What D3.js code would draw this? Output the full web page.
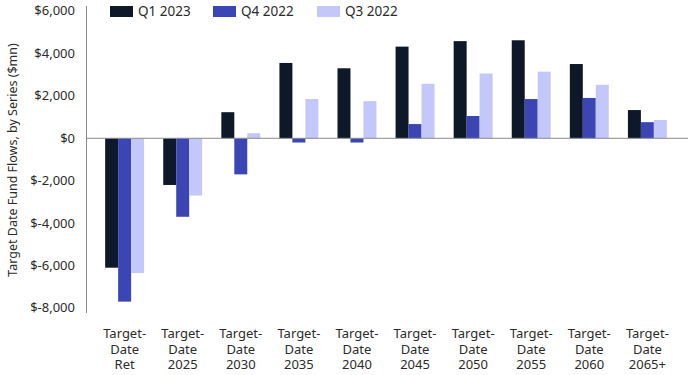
<!DOCTYPE html>
<html>
<head>
<meta charset="utf-8">
<script src="https://cdn.jsdelivr.net/npm/d3@7"></script>
<style>
  body { margin: 0; background: #fff; }
  svg text { font-family: "Noto Sans", "Open Sans", sans-serif; fill: #2b2b2b; }
</style>
</head>
<body>
<div id="chart"></div>
<script>
const categories = ["Ret", "2025", "2030", "2035", "2040", "2045", "2050", "2055", "2060", "2065+"];
const seriesNames = ["Q1 2023", "Q4 2022", "Q3 2022"];
const q1_2023 = [-6100, -2200, 1230, 3550, 3300, 4320, 4580, 4620, 3500, 1330];
const q4_2022 = [-7700, -3700, -1700, -200, -200, 670, 1050, 1850, 1900, 760];
const q3_2022 = [-6350, -2700, 240, 1850, 1750, 2570, 3050, 3140, 2520, 860];
const yTicks = [-8000, -6000, -4000, -2000, 0, 2000, 4000, 6000];
const colors = ["#0d1828", "#3c45b4", "#c3c7fa"];

function drawChart(containerId) {
    const width = 690, height = 375;
    const seriesValues = [q1_2023, q4_2022, q3_2022];

    const svg = d3.select(`#${containerId}`)
        .append("svg")
        .attr("width", width)
        .attr("height", height);

    const x = d3.scaleBand()
        .domain(categories)
        .range([86, 686])
        .paddingInner(0.33)
        .paddingOuter(0.33);

    const xInner = d3.scaleBand()
        .domain(seriesNames)
        .range([0, x.bandwidth()]);

    const y = d3.scaleLinear()
        .domain([-8000, 6000])
        .range([308, 11]);

    // y axis line and tick labels
    svg.append("line")
        .attr("x1", 86.5).attr("x2", 86.5)
        .attr("y1", 6).attr("y2", 313)
        .attr("stroke", "#8a8a8a");

    svg.append("g")
        .selectAll("text")
        .data(yTicks)
        .join("text")
        .attr("x", 75)
        .attr("y", d => y(d) + 1)
        .attr("text-anchor", "end")
        .attr("dominant-baseline", "middle")
        .style("font-size", "13px")
        .text(d => d < 0 ? "$-" + d3.format(",")(-d) : "$" + d3.format(",")(d));

    svg.append("text")
        .attr("transform", `translate(17, 160) rotate(-90)`)
        .attr("text-anchor", "middle")
        .style("font-size", "12.5px")
        .text("Target Date Fund Flows, by Series ($mn)");

    // bars
    const groups = svg.append("g")
        .selectAll("g")
        .data(categories)
        .join("g")
        .attr("transform", d => `translate(${x(d)},0)`);

    groups.selectAll("rect")
        .data((c, i) => seriesNames.map((s, j) => ({ s, j, v: seriesValues[j][i] })))
        .join("rect")
        .attr("x", d => xInner(d.s))
        .attr("width", xInner.bandwidth())
        .attr("y", d => y(Math.max(0, d.v)))
        .attr("height", d => Math.abs(y(d.v) - y(0)))
        .attr("fill", d => colors[d.j]);

    // zero line
    svg.append("line")
        .attr("x1", 86).attr("x2", 688)
        .attr("y1", y(0)).attr("y2", y(0))
        .attr("stroke", "#8a8a8a");

    // category labels
    const labels = svg.append("g")
        .selectAll("text")
        .data(categories)
        .join("text")
        .attr("text-anchor", "middle")
        .style("font-size", "13px");
    labels.each(function(d) {
        const t = d3.select(this);
        const cx = x(d) + x.bandwidth() / 2;
        ["Target-", "Date", d].forEach((line, k) => {
            t.append("tspan")
                .attr("x", cx)
                .attr("y", 338 + k * 15.6)
                .text(line);
        });
    });

    // legend
    const legendX = [110, 213, 317];
    const legend = svg.append("g")
        .selectAll("g")
        .data(seriesNames)
        .join("g")
        .attr("transform", (d, i) => `translate(${legendX[i]},6)`);
    legend.append("rect")
        .attr("width", 23)
        .attr("height", 11)
        .attr("fill", (d, i) => colors[i]);
    legend.append("text")
        .attr("x", 28)
        .attr("y", 6)
        .attr("dominant-baseline", "middle")
        .style("font-size", "13.5px")
        .text(d => d);
}

drawChart("chart");
</script>
</body>
</html>
